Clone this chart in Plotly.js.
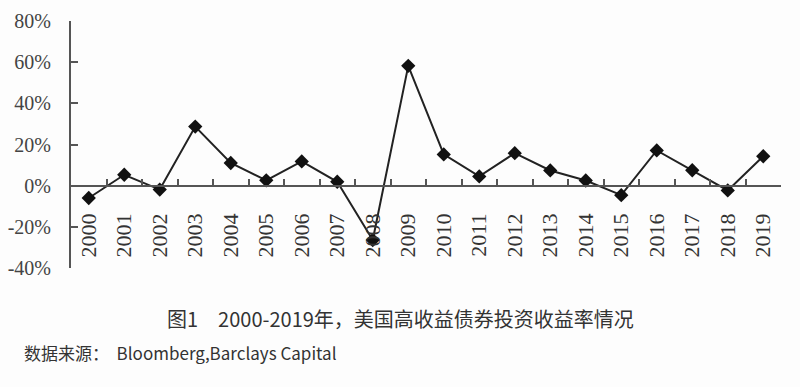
<!DOCTYPE html>
<html>
<head>
<meta charset="utf-8">
<script src="https://cdn.plot.ly/plotly-3.0.1.min.js"></script>
<style>html,body{margin:0;padding:0;background:#fdfdfd;}#chart{width:800px;height:387px;}</style>
</head>
<body>
<div id="chart"></div>
<script>
const years = ['2000','2001','2002','2003','2004','2005','2006','2007','2008','2009','2010','2011','2012','2013','2014','2015','2016','2017','2018','2019'];
const returns = [-6.0, 5.3, -1.9, 28.7, 11.0, 2.6, 11.8, 1.9, -26.4, 58.2, 15.2, 4.5, 15.8, 7.4, 2.5, -4.6, 17.1, 7.5, -2.3, 14.3];
const yTicks = [-40, -20, 0, 20, 40, 60, 80];
const captionText = '图1　2000-2019年，美国高收益债券投资收益率情况';
const sourceText = '数据来源：  Bloomberg,Barclays Capital';

const serif = "'Liberation Serif', 'DejaVu Serif', serif";
const cjk = "'Noto Sans CJK SC', 'Noto Sans', sans-serif";

const trace = {
  type: 'scatter',
  mode: 'lines+markers',
  x: years,
  y: returns,
  line: {color: '#222', width: 2},
  marker: {symbol: 'diamond', size: 11, color: '#111'},
  cliponaxis: false,
  hoverinfo: 'x+y'
};

const layout = {
  width: 800,
  height: 387,
  margin: {l: 71, r: 19, t: 21, b: 119},
  paper_bgcolor: '#fdfdfd',
  plot_bgcolor: '#fdfdfd',
  showlegend: false,
  xaxis: {
    type: 'category',
    anchor: 'free',
    position: 1/3,
    range: [-0.5, 19.5],
    showline: true,
    linecolor: '#555',
    linewidth: 2,
    ticks: 'inside',
    tickson: 'boundaries',
    ticklen: 6,
    tickwidth: 2,
    tickcolor: '#555',
    tickangle: -90,
    ticklabelstandoff: 18,
    showgrid: false,
    zeroline: false,
    tickfont: {family: serif, size: 22, color: '#333'}
  },
  yaxis: {
    range: [-40, 80],
    tickvals: yTicks,
    ticktext: yTicks.map(v => (v < 0 ? '-' + Math.abs(v) : v) + '%'),
    showline: true,
    linecolor: '#555',
    linewidth: 2,
    ticks: 'inside',
    ticklen: 7,
    tickwidth: 2,
    tickcolor: '#555',
    ticklabelstandoff: 14,
    showgrid: false,
    zeroline: false,
    tickfont: {family: serif, size: 20, color: '#444'}
  },
  annotations: [
    {text: captionText, xref: 'paper', yref: 'paper', x: (400 - 71) / 710, y: (268 - 318) / 247,
     xanchor: 'center', yanchor: 'middle', showarrow: false,
     font: {family: cjk, size: 20, color: '#333'}},
    {text: sourceText, xref: 'paper', yref: 'paper', x: (22 - 71) / 710, y: (268 - 352) / 247,
     xanchor: 'left', yanchor: 'middle', showarrow: false,
     font: {family: cjk, size: 17, color: '#333'}}
  ]
};

Plotly.newPlot('chart', [trace], layout, {displayModeBar: false, staticPlot: true});
</script>
</body>
</html>
